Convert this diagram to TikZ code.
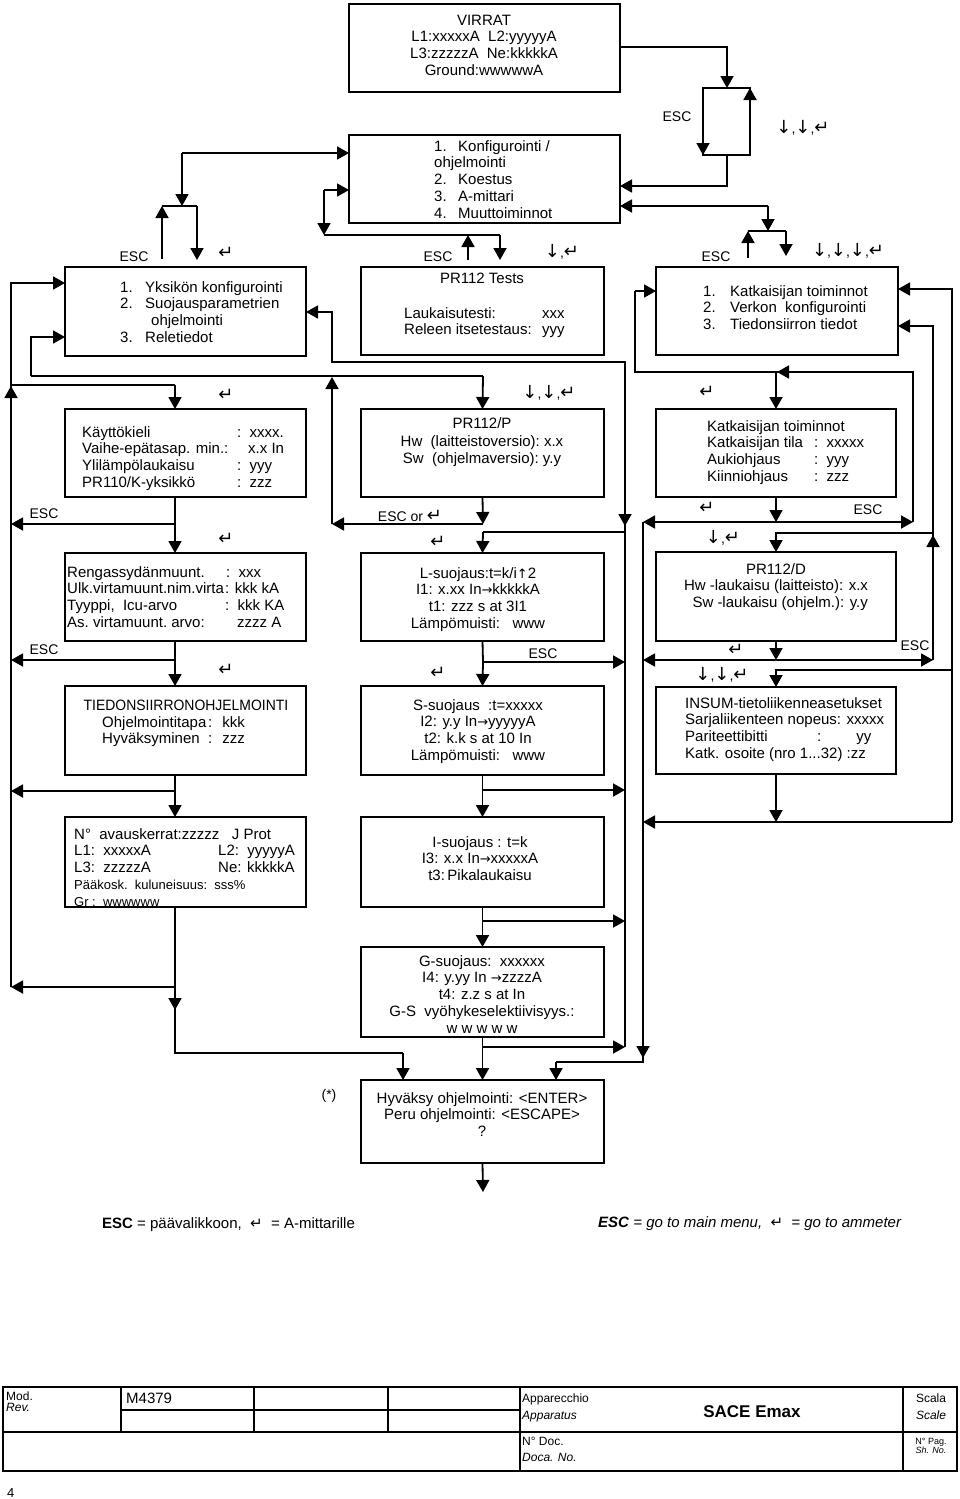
\documentclass[tikz,border=0pt]{standalone}
\usepackage{fontspec}
\usepackage{graphicx}
\setmainfont{Liberation Sans}
\newfontfamily\sym{DejaVu Sans}
\usetikzlibrary{arrows.meta}
\newcommand\fs{\fontsize{15}{16.8}\selectfont}
\newcommand\ent{{\sym\fontsize{18}{18}\selectfont ↵}}
\newcommand\dn{{\sym\fontsize{18}{18}\selectfont ↓}}
\newcommand\ra{{\sym\fontsize{13}{13}\selectfont →}}
\newcommand\LL[1]{\begin{tabular}[t]{@{}l@{}}#1\end{tabular}}
\newcommand\CC[1]{\begin{tabular}[t]{@{}c@{}}#1\end{tabular}}
\tikzset{
  box/.style={draw, line width=1.8pt, inner sep=0, outer sep=0, anchor=north west},
  ln/.style={line width=1.8pt},
  arr/.style={line width=1.8pt, -{Triangle[length=12pt,width=13pt]}},
  dbl/.style={line width=1.8pt, {Triangle[length=12pt,width=13pt]}-{Triangle[length=12pt,width=13pt]}},
  lbl/.style={inner sep=0, font=\fontsize{14}{16}\selectfont},
  txt/.style={inner sep=0, anchor=base west, font=\fs},
  ctxt/.style={inner sep=0, anchor=base, font=\fs},
  tb/.style={inner sep=0, anchor=base west, font=\fontsize{12}{14}\selectfont},
}
\begin{document}
\begin{tikzpicture}[x=1pt,y=-1pt]
\useasboundingbox (0,0) rectangle (960,1499);
\fill[white] (0,0) rectangle (960,1499);

% ---------- boxes ----------
\node[box,minimum width=271pt,minimum height=88pt] (virrat) at (349,4) {};
\node[box,minimum width=271pt,minimum height=88pt] (menu) at (349,135) {};
\node[box,minimum width=241pt,minimum height=89pt] (yks) at (65,267) {};
\node[box,minimum width=243pt,minimum height=88pt] (tests) at (361,267) {};
\node[box,minimum width=242pt,minimum height=88pt] (kat1) at (656,267) {};
\node[box,minimum width=241pt,minimum height=88pt] (kayt) at (65,409) {};
\node[box,minimum width=243pt,minimum height=88pt] (pr112p) at (361,409) {};
\node[box,minimum width=240pt,minimum height=88pt] (kat2) at (656,409) {};
\node[box,minimum width=241pt,minimum height=88pt] (reng) at (65,553) {};
\node[box,minimum width=243pt,minimum height=88pt] (lsuo) at (361,553) {};
\node[box,minimum width=240pt,minimum height=89pt] (pr112d) at (656,552) {};
\node[box,minimum width=241pt,minimum height=89pt] (tied) at (65,686) {};
\node[box,minimum width=243pt,minimum height=89pt] (ssuo) at (361,686) {};
\node[box,minimum width=240pt,minimum height=87pt] (insum) at (656,687) {};
\node[box,minimum width=243pt,minimum height=90pt] (isuo) at (361,817) {};
\node[box,minimum width=243pt,minimum height=90pt] (gsuo) at (361,947) {};
\node[box,minimum width=243pt,minimum height=83pt] (final) at (361,1080) {};

% ---------- box texts ----------
\node[ctxt] (virrat-t) at (484,25) {\CC{VIRRAT\\L1:xxxxxA\ \ L2:yyyyyA\\L3:zzzzzA\ \ Ne:kkkkkA\\Ground:wwwwwA}};
\node[txt] (menu-t) at (434,151) {\LL{\makebox[24pt][l]{1.}Konfigurointi /\\ohjelmointi\\\makebox[24pt][l]{2.}Koestus\\\makebox[24pt][l]{3.}A-mittari\\\makebox[24pt][l]{4.}Muuttoiminnot}};
\node[txt] (yks-t) at (120,292) {\LL{\makebox[25pt][l]{1.}Yksikön konfigurointi\\\makebox[25pt][l]{2.}Suojausparametrien\\\hspace{31pt}ohjelmointi\\\makebox[25pt][l]{3.}Reletiedot}};
\node[ctxt] (tests-h) at (482,283) {PR112 Tests};
\node[txt] (tests-t) at (404,318) {\LL{\makebox[138pt][l]{Laukaisutesti:}xxx\\\makebox[138pt][l]{Releen itsetestaus:}yyy}};
\node[txt] (kat1-t) at (703,296) {\LL{\makebox[27pt][l]{1.}Katkaisijan toiminnot\\\makebox[27pt][l]{2.}Verkon\ \ konfigurointi\\\makebox[27pt][l]{3.}Tiedonsiirron tiedot}};
\node[txt] (kayt-t) at (82,437) {\LL{\makebox[155pt][l]{Käyttökieli}:\ \ xxxx.\\\makebox[166pt][l]{Vaihe-epätasap. min.:}x.x In\\\makebox[155pt][l]{Ylilämpölaukaisu}:\ \ yyy\\\makebox[155pt][l]{PR110/K-yksikkö}:\ \ zzz}};
\node[ctxt] (pr112p-t) at (482,428) {\CC{PR112/P\\[2pt]Hw\ \ (laitteistoversio):\ x.x\\Sw\ \ (ohjelmaversio):\ y.y}};
\node[txt] (kat2-t) at (707,431) {\LL{Katkaisijan toiminnot\\\makebox[107pt][l]{Katkaisijan tila}:\ \ xxxxx\\\makebox[107pt][l]{Aukiohjaus}:\ \ yyy\\\makebox[107pt][l]{Kiinniohjaus}:\ \ zzz}};
\node[txt] (reng-t) at (67,577) {\LL{\makebox[159pt][l]{Rengassydänmuunt.}:\ \ xxx\\\makebox[158pt][l]{Ulk.virtamuunt.nim.virta}: kkk kA\\\makebox[158pt][l]{Tyyppi,\ \ Icu-arvo}:\ \ kkk KA\\\makebox[170pt][l]{As.\ virtamuunt.\ arvo:}zzzz A}};
\node[ctxt] (lsuo-t) at (478,578) {\CC{L-suojaus:t=k/i{\sym\fontsize{13}{13}\selectfont ↑}2\\I1: x.xx In\ra kkkkkA\\t1: zzz s at 3I1\\Lämpömuisti:\ \ \ www}};
\node[ctxt] (pr112d-t) at (776,574) {\CC{PR112/D\\Hw -laukaisu\ (laitteisto): x.x\\\ \ Sw -laukaisu (ohjelm.): y.y}};
\node[ctxt] (tied-h) at (186,710) {\scalebox{0.93}[1]{TIEDONSIIRRONOHJELMOINTI}};
\node[txt] (tied-t) at (102,727) {\LL{\makebox[106pt][l]{Ohjelmointitapa}:\hspace{10pt}kkk\\\makebox[106pt][l]{Hyväksyminen}:\hspace{10pt}zzz}};
\node[ctxt] (ssuo-t) at (478,710) {\CC{S-suojaus\ \ :t=xxxxx\\I2: y.y In\ra yyyyyA\\t2: k.k s at 10 In\\Lämpömuisti:\ \ \ www}};
\node[txt] (insum-t) at (685,708) {\LL{INSUM-tietoliikenneasetukset\\Sarjaliikenteen nopeus: xxxxx\\\makebox[132pt][l]{Pariteettibitti}:\hspace{35pt}yy\\Katk. osoite (nro 1...32) :zz}};
\node[txt] (nbox-t) at (74,839) {\LL{N°\ \ avauskerrat:zzzzz\ \ \ J Prot\\\makebox[144pt][l]{L1:\ \ xxxxxA}L2:\ \ yyyyyA\\\makebox[144pt][l]{L3:\ \ zzzzzA}Ne: kkkkkA\\{\fontsize{13}{16.8}\selectfont Pääkosk.\ \ kuluneisuus:\ \ sss\%}\\{\fontsize{13}{16.8}\selectfont Gr :\ \ wwwwww}}};
\node[box,minimum width=241pt,minimum height=90pt] (nbox) at (65,817) {};
\node[ctxt] (isuo-t) at (480,847) {\CC{I-suojaus : t=k\\I3: x.x In\ra xxxxxA\\t3:\,Pikalaukaisu}};
\node[ctxt] (gsuo-t) at (482,966) {\CC{G-suojaus:\ \ xxxxxx\\I4: y.yy In \ra zzzzA\\t4: z.z s at In\\G-S\ \ vyöhykeselektiivisyys.:\\w w w w w}};
\node[ctxt] (final-t) at (482,1103) {\CC{Hyväksy ohjelmointi: <ENTER>\\Peru ohjelmointi: <ESCAPE>\\?}};

% ---------- labels ----------
\node[lbl] (l-esc1) at (677,117) {ESC};
\node[lbl] (l-a1) at (803,128) {\dn,\dn,\ent};
\node[lbl] (l-esc2) at (134,257) {ESC};
\node[lbl] (l-e2) at (226,253) {\ent};
\node[lbl] (l-esc3) at (438,257) {ESC};
\node[lbl] (l-a3) at (562,252) {\dn,\ent};
\node[lbl] (l-esc4) at (716,257) {ESC};
\node[lbl] (l-a4) at (848,251) {\dn,\dn,\dn,\ent};
\node[lbl] (l-e5) at (226,395) {\ent};
\node[lbl] (l-a6) at (549,393) {\dn,\dn,\ent};
\node[lbl] (l-e7) at (707,392) {\ent};
\node[lbl] (l-esc8) at (44,514) {ESC};
\node[lbl] (l-escor) at (410,516) {ESC or \ent};
\node[lbl] (l-e9) at (226,539) {\ent};
\node[lbl] (l-e10) at (438,542) {\ent};
\node[lbl] (l-e11) at (707,508) {\ent};
\node[lbl] (l-esc11) at (868,510) {ESC};
\node[lbl] (l-a12) at (723,538) {\dn,\ent};
\node[lbl] (l-esc13) at (44,650) {ESC};
\node[lbl] (l-esc14) at (543,654) {ESC};
\node[lbl] (l-e15) at (226,670) {\ent};
\node[lbl] (l-e16) at (438,673) {\ent};
\node[lbl] (l-e17) at (736,650) {\ent};
\node[lbl] (l-esc17) at (915,646) {ESC};
\node[lbl] (l-a18) at (722,675) {\dn,\dn,\ent};
\node[lbl] (l-star) at (329,1096) {(*)};

% ---------- top connectors ----------
\draw[arr] (virrat.east |- 0,47) -- (727,47) -- (727,88);
\draw[ln] (703,88) rectangle (750,155);
\draw[arr] (703,88) -- (703,155);
\draw[arr] (750,155) -- (750,88);
\draw[arr] (727,155) -- (727,186) -- (menu.east |- 0,186);
\draw[arr] (768,206) -- (menu.east |- 0,206);
\draw[arr] (768,206) -- (768,231);
\draw[ln] (748,231) -- (786,231);
\draw[arr] (748,258) -- (748,231);
\draw[arr] (786,231) -- (786,256);
\draw[arr] (182,153) -- (menu.west |- 0,153);
\draw[arr] (182,153) -- (182,206);
\draw[ln] (162,206) -- (197,206);
\draw[arr] (162,259) -- (162,206);
\draw[arr] (197,206) -- (197,260);
\draw[arr] (324,190) -- (menu.west |- 0,190);
\draw[arr] (324,190) -- (324,235);
\draw[ln] (324,235) -- (500,235);
\draw[arr] (468,260) -- (468,235);
\draw[arr] (500,235) -- (500,260);

% ---------- left column ----------
\draw[arr] (11,987) -- (11,283) -- (yks.west |- 0,283);
\draw[arr] (11,400) -- (11,386);
\draw[arr] (31,376) -- (31,337) -- (yks.west |- 0,337);
\draw[ln] (31,376) -- (483,376);
\draw[arr] (483,376) -- (pr112p.north);
\draw[ln] (11,385) -- (175,385);
\draw[arr] (175,385) -- (kayt.north -| 175,0);
\draw[ln] (kayt.south -| 175,0) -- (175,524);
\draw[arr] (175,524) -- (11,524);
\draw[arr] (175,524) -- (reng.north -| 175,0);
\draw[ln] (reng.south -| 175,0) -- (175,660);
\draw[arr] (175,660) -- (11,660);
\draw[arr] (175,660) -- (tied.north -| 175,0);
\draw[arr] (175,791) -- (11,791);
\draw[arr] (tied.south -| 175,0) -- (nbox.north -| 175,0);
\draw[ln] (nbox.south -| 175,0) -- (175,1053) -- (403,1053);
\draw[arr] (403,1053) -- (final.north -| 403,0);
\draw[arr] (175,987) -- (11,987);
\draw[arr] (175,995) -- (175,1010);

% ---------- middle column ----------
\draw[arr] (625,1047) -- (625,362) -- (332,362) -- (332,312) -- (yks.east |- 0,312);
\draw[arr] (625,510) -- (625,526);
\draw[arr] (483,524) -- (332,524);
\draw[arr] (332,524) -- (332,377);
\draw[arr] (pr112p.south) -- (483,524);
\draw[ln] (625,532) -- (483,532);
\draw[arr] (483,532) -- (lsuo.north);
\draw[ln] (lsuo.south) -- (483,662);
\draw[arr] (483,662) -- (625,662);
\draw[arr] (483,662) -- (ssuo.north);
\draw[arr] (483,790) -- (625,790);
\draw[arr] (ssuo.south) -- (isuo.north);
\draw[arr] (483,921) -- (625,921);
\draw[arr] (isuo.south) -- (gsuo.north);
\draw[arr] (483,1047) -- (625,1047);
\draw[arr] (gsuo.south) -- (final.north);
\draw[arr] (final.south) -- (483,1192);

% ---------- right column ----------
\draw[ln] (913,522) -- (913,372) -- (635,372) -- (635,291);
\draw[arr] (635,291) -- (kat1.west |- 0,291);
\draw[arr] (790,372) -- (777,372);
\draw[arr] (776,372) -- (kat2.north);
\draw[arr] (952,670) -- (952,289) -- (kat1.east |- 0,289);
\draw[ln] (952,670) -- (952,822);
\draw[arr] (952,670) -- (776,670) -- (insum.north);
\draw[arr] (952,822) -- (643,822);
\draw[arr] (933,660) -- (933,326) -- (kat1.east |- 0,326);
\draw[arr] (933,552) -- (933,535);
\draw[arr] (933,533) -- (776,533) -- (pr112d.north);
\draw[arr] (kat2.south) -- (776,522);
\draw[dbl] (643,522) -- (913,522);
\draw[ln] (643,522) -- (643,1062) -- (556,1062);
\draw[arr] (643,1040) -- (643,1058);
\draw[arr] (556,1062) -- (final.north -| 556,0);
\draw[arr] (pr112d.south) -- (776,660);
\draw[dbl] (643,660) -- (933,660);
\draw[arr] (insum.south) -- (776,822);

% ---------- legend ----------
\node[txt] (leg1) at (102,1228) {\textbf{ESC} = päävalikkoon,\ \ {\sym\fontsize{15}{15}\selectfont ↵}\ \ = A-mittarille};
\node[txt] (leg2) at (598,1227) {\textbf{\textit{ESC}} \textit{= go to main menu,}\ \ {\sym\fontsize{15}{15}\selectfont ↵}\ \ \textit{= go to ammeter}};

% ---------- title block ----------
\draw[line width=2pt] (3,1387) rectangle (957,1471);
\draw[line width=2pt] (3,1432) -- (957,1432);
\draw[line width=1.4pt] (121,1387) -- (121,1432);
\draw[line width=1.4pt] (254,1387) -- (254,1432);
\draw[line width=1.4pt] (388,1387) -- (388,1432);
\draw[line width=1.4pt] (121,1410) -- (520,1410);
\draw[line width=1.4pt] (520,1387) -- (520,1471);
\draw[line width=1.4pt] (903,1387) -- (903,1471);
\node[tb] (tb-mod) at (6,1400) {Mod.};
\node[tb] (tb-rev) at (6,1411) {\textit{Rev.}};
\node[tb, font=\fontsize{15}{16}\selectfont] (tb-m) at (126,1403) {M4379};
\node[tb] (tb-app) at (522,1402) {Apparecchio};
\node[tb] (tb-appe) at (522,1419) {\textit{Apparatus}};
\node[inner sep=0, font=\fontsize{17}{18}\selectfont\bfseries] (tb-sace) at (752,1412) {SACE Emax};
\node[tb, anchor=base] (tb-sc) at (931,1402) {Scala};
\node[tb, anchor=base] (tb-sce) at (931,1419) {\textit{Scale}};
\node[tb] (tb-doc) at (522,1445) {N° Doc.};
\node[tb] (tb-doce) at (522,1461) {\textit{Doca. No.}};
\node[tb, anchor=base, font=\fontsize{9}{10}\selectfont] (tb-pag) at (931,1444) {N° Pag.};
\node[tb, anchor=base, font=\fontsize{9}{10}\selectfont] (tb-page) at (931,1453) {\textit{Sh. No.}};
\node[tb, font=\fontsize{13}{14}\selectfont] (pageno) at (7,1497) {4};
\end{tikzpicture}
\end{document}
